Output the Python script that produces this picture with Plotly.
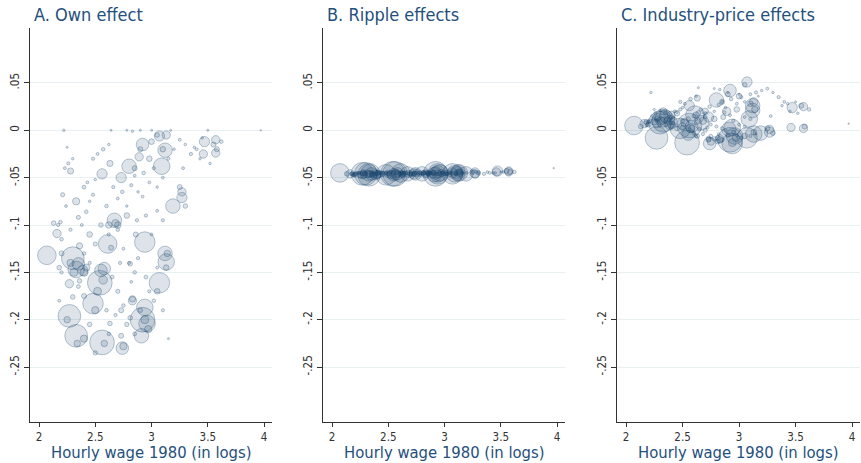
import plotly.graph_objects as go
import numpy as np

# ---- data: occupations (log hourly wage 1980, weight, three effects) ----
big_wage   = [2.07, 2.30, 2.27, 2.33, 2.54, 2.56, 2.48, 2.61, 2.94, 2.92, 2.96, 3.07, 3.12, 3.13, 2.94, 2.91,
              2.74, 2.33, 2.67, 2.92, 3.09, 3.12, 3.07, 2.80, 2.56, 2.73, 3.19, 3.27, 3.27, 3.47, 3.57, 3.46,
              3.57, 2.58, 2.16, 2.27, 2.83, 2.36, 2.33, 2.28, 2.63, 2.89, 3.13, 3.97, 2.55, 2.35, 2.39]
big_weight = [1.65, 2.45, 2.45, 2.45, 2.9, 2.9, 2.0, 1.65, 2.0, 2.9, 1.3, 2.0, 1.0, 1.3, 1.3, 1.0,
              0.75, 1.3, 1.0, 0.75, 1.3, 1.0, 0.5, 1.0, 0.5, 0.5, 1.0, 0.5, 0.33, 0.5, 0.33, 0.33,
              0.33, 0.75, 0.33, 0.33, 0.33, 0.18, 0.25, 0.18, 0.18, 0.33, 0.33, 0.01, 0.75, 0.75, 0.5]
big_own    = [-0.132, -0.135, -0.196, -0.217, -0.161, -0.224, -0.183, -0.120, -0.118, -0.200, -0.204, -0.161,
              -0.130, -0.139, -0.187, -0.217, -0.230, -0.147, -0.095, -0.015, -0.038, -0.021, -0.006, -0.038,
              -0.046, -0.050, -0.080, -0.071, -0.065, -0.012, -0.010, -0.025, -0.024, -0.146, -0.109, -0.162,
              -0.180, -0.122, -0.075, -0.043, -0.035, -0.028, -0.005, 0.000, -0.148, -0.141, -0.148]
big_ripple = [-0.045, -0.046, -0.046, -0.047, -0.046, -0.046, -0.047, -0.045, -0.046, -0.046, -0.045, -0.046,
              -0.046, -0.045, -0.046, -0.047, -0.046, -0.045, -0.046, -0.045, -0.046, -0.044, -0.045, -0.046,
              -0.047, -0.046, -0.046, -0.045, -0.046, -0.043, -0.043, -0.044, -0.044, -0.046, -0.046, -0.047,
              -0.046, -0.047, -0.046, -0.045, -0.047, -0.046, -0.045, -0.040, -0.047, -0.046, -0.047]
big_ind    = [0.005, 0.008, -0.008, 0.010, -0.013, 0.005, 0.002, 0.016, -0.014, -0.010, -0.006, -0.008,
              0.021, -0.004, 0.003, 0.001, -0.014, 0.012, 0.008, 0.042, 0.012, 0.026, 0.051, 0.032,
              0.026, 0.014, -0.003, -0.002, 0.001, 0.024, 0.025, 0.003, 0.002, 0.004, 0.007, 0.007,
              -0.009, 0.010, 0.020, 0.012, 0.034, 0.020, 0.030, 0.007, -0.004, 0.015, 0.006]

mid_wage   = [2.64, 2.70, 2.81, 2.36, 2.30, 2.73, 2.81, 2.63, 2.73, 2.90, 2.83, 2.40, 2.42, 2.52, 2.57,
              2.50, 2.28, 2.31, 2.25, 2.34, 2.40, 2.58, 2.75, 2.94, 2.97, 3.05, 3.14, 3.13, 2.62, 2.68,
              2.85, 2.98, 3.10, 3.00, 3.05, 2.90, 3.30, 3.25, 3.55, 3.58, 2.20, 2.18, 2.45, 2.78, 2.86]
mid_weight = [0.12, 0.20, 0.10, 0.10, 0.10, 0.12, 0.10, 0.10, 0.12, 0.10, 0.20, 0.30, 0.25, 0.30, 0.35,
              0.25, 0.25, 0.30, 0.20, 0.20, 0.25, 0.20, 0.25, 0.30, 0.25, 0.15, 0.20, 0.15, 0.20, 0.25,
              0.12, 0.15, 0.15, 0.15, 0.10, 0.12, 0.10, 0.12, 0.12, 0.12, 0.12, 0.10, 0.15, 0.15, 0.12]
mid_own    = [-0.124, -0.100, -0.141, -0.159, -0.176, -0.190, -0.198, -0.204, -0.217, -0.190, -0.178, -0.150,
              -0.145, -0.170, -0.158, -0.190, -0.140, -0.150, -0.200, -0.225, -0.220, -0.225, -0.228, -0.200,
              -0.210, -0.170, -0.130, -0.145, -0.100, -0.098, -0.040, -0.030, -0.020, -0.012, -0.005, -0.020,
              -0.080, -0.060, -0.015, -0.020, -0.130, -0.145, -0.110, -0.090, -0.110]
mid_ripple = [-0.046, -0.046, -0.045, -0.047, -0.046, -0.046, -0.045, -0.046, -0.046, -0.045, -0.046, -0.047,
              -0.046, -0.047, -0.046, -0.046, -0.047, -0.046, -0.047, -0.046, -0.047, -0.046, -0.045, -0.046,
              -0.045, -0.046, -0.045, -0.044, -0.046, -0.046, -0.045, -0.046, -0.045, -0.045, -0.044, -0.045,
              -0.045, -0.044, -0.043, -0.044, -0.047, -0.046, -0.046, -0.046, -0.046]
mid_ind    = [0.018, 0.020, -0.008, 0.012, 0.006, -0.010, -0.012, -0.006, -0.009, -0.005, -0.010, 0.016,
              0.010, 0.008, 0.002, 0.004, 0.014, 0.010, 0.009, 0.011, 0.006, 0.002, -0.012, -0.013,
              -0.008, -0.006, 0.022, -0.002, 0.016, 0.010, 0.030, 0.022, 0.028, 0.036, 0.048, 0.038,
              -0.003, 0.002, 0.026, 0.004, 0.006, 0.009, 0.018, 0.012, 0.014]

small_wage = [2.22, 2.25, 2.23, 2.26, 2.30, 2.21, 2.19, 2.13, 2.17, 2.24, 2.20, 2.28, 2.35, 2.38, 2.42, 2.45,
              2.48, 2.40, 2.43, 2.50, 2.48, 2.52, 2.57, 2.62, 2.66, 2.70, 2.74, 2.78, 2.82, 2.85, 2.88, 2.93,
              2.98, 3.02, 3.05, 3.10, 3.15, 3.20, 3.25, 3.30, 3.35, 3.40, 3.43, 3.52, 3.62, 2.64, 2.78, 2.83,
              2.90, 3.00, 3.17, 3.50, 2.40, 2.45, 2.50, 2.62, 2.70, 2.75, 2.80, 2.85, 2.82, 2.88, 2.95, 2.98,
              3.02, 3.05, 2.70, 2.75, 2.68, 2.78, 2.85, 2.62, 2.45, 2.40, 2.35, 2.20, 2.18, 2.60, 2.72, 2.65,
              3.10, 3.15, 2.50, 2.55, 2.60, 2.95, 3.00, 3.10, 3.05, 3.38, 3.45, 3.28, 2.87, 2.92]
small_weight = [0.03, 0.02, 0.04, 0.05, 0.03, 0.08, 0.06, 0.10, 0.05, 0.04, 0.06, 0.05, 0.08, 0.04, 0.06, 0.03,
                0.05, 0.07, 0.04, 0.03, 0.05, 0.04, 0.06, 0.03, 0.05, 0.04, 0.06, 0.03, 0.05, 0.04, 0.03, 0.06,
                0.04, 0.05, 0.03, 0.04, 0.05, 0.03, 0.04, 0.03, 0.05, 0.04, 0.03, 0.03, 0.06, 0.02, 0.02, 0.03,
                0.02, 0.02, 0.02, 0.02, 0.06, 0.05, 0.08, 0.05, 0.06, 0.04, 0.05, 0.06, 0.04, 0.05, 0.07, 0.05,
                0.06, 0.04, 0.08, 0.06, 0.05, 0.09, 0.07, 0.06, 0.10, 0.12, 0.07, 0.05, 0.04, 0.06, 0.05, 0.07,
                0.05, 0.02, 0.09, 0.10, 0.06, 0.05, 0.04, 0.05, 0.04, 0.03, 0.03, 0.04, 0.05, 0.04]
small_own  = [0.000, -0.018, -0.040, -0.035, -0.030, -0.068, -0.097, -0.098, -0.100, -0.080, -0.115, -0.105,
              -0.092, -0.100, -0.086, -0.075, -0.068, -0.060, -0.055, -0.052, -0.030, -0.025, -0.020, -0.015,
              -0.060, -0.072, -0.065, -0.080, -0.058, -0.048, -0.065, -0.045, -0.055, -0.040, -0.060, -0.050,
              -0.030, -0.020, -0.010, -0.015, -0.025, -0.020, -0.030, -0.035, -0.012, 0.000, 0.000, -0.001,
              0.000, 0.000, 0.000, 0.000, -0.130, -0.140, -0.120, -0.110, -0.105, -0.125, -0.140, -0.150,
              -0.160, -0.135, -0.155, -0.170, -0.180, -0.145, -0.170, -0.185, -0.195, -0.205, -0.215, -0.215,
              -0.205, -0.175, -0.165, -0.150, -0.180, -0.190, -0.140, -0.155, -0.190, -0.220, -0.235, -0.100,
              -0.080, -0.090, -0.110, -0.095, -0.085, -0.018, -0.008, -0.040, -0.095, -0.070]
small_ripple = [-0.045, -0.046, -0.045, -0.046, -0.045, -0.046, -0.047, -0.046, -0.046, -0.045, -0.047, -0.046,
                -0.045, -0.046, -0.045, -0.046, -0.045, -0.046, -0.045, -0.046, -0.045, -0.044, -0.045, -0.046,
                -0.045, -0.046, -0.045, -0.046, -0.045, -0.046, -0.045, -0.046, -0.045, -0.046, -0.045, -0.046,
                -0.045, -0.045, -0.044, -0.045, -0.046, -0.045, -0.045, -0.044, -0.044, -0.045, -0.046, -0.045,
                -0.046, -0.045, -0.045, -0.044, -0.046, -0.045, -0.046, -0.045, -0.046, -0.045, -0.046, -0.045,
                -0.046, -0.045, -0.046, -0.045, -0.046, -0.045, -0.046, -0.045, -0.046, -0.045, -0.046, -0.045,
                -0.046, -0.045, -0.046, -0.047, -0.046, -0.045, -0.046, -0.045, -0.046, -0.045, -0.046, -0.045,
                -0.046, -0.045, -0.046, -0.045, -0.046, -0.044, -0.045, -0.044, -0.045, -0.046]
small_ind  = [0.040, 0.022, 0.015, 0.018, 0.021, 0.010, 0.006, 0.004, 0.008, 0.012, 0.009, 0.011,
              0.018, 0.015, 0.013, 0.019, 0.022, 0.014, 0.020, 0.024, 0.030, 0.028, 0.033, 0.036,
              0.022, 0.018, 0.025, 0.020, 0.027, 0.030, 0.024, 0.033, 0.028, 0.035, 0.030, 0.038,
              0.040, 0.042, 0.044, 0.040, 0.035, 0.030, 0.028, 0.018, 0.022, 0.045, 0.044, 0.043,
              0.040, 0.038, 0.036, 0.030, 0.008, 0.005, 0.010, 0.012, 0.014, 0.006, 0.004, 0.002,
              -0.004, 0.000, -0.002, -0.005, -0.008, 0.004, 0.000, -0.006, -0.004, -0.009, -0.010, -0.006,
              0.002, 0.004, 0.006, 0.009, 0.005, -0.003, 0.003, 0.001, -0.006, -0.004, 0.003, 0.012,
              0.015, 0.010, 0.006, 0.012, 0.014, 0.026, 0.020, 0.015, 0.019, 0.016]

panel_titles = ["A. Own effect", "B. Ripple effects", "C. Industry-price effects"]
x_title = "Hourly wage 1980 (in logs)"
y_ticks = [0.05, 0.0, -0.05, -0.10, -0.15, -0.20, -0.25]
y_tick_labels = [".05", "0", "-.05", "-.1", "-.15", "-.2", "-.25"]
x_ticks = [2, 2.5, 3, 3.5, 4]
x_tick_labels = ["2", "2.5", "3", "3.5", "4"]

wage = big_wage + mid_wage + small_wage
weight = big_weight + mid_weight + small_weight
effects = [big_own + mid_own + small_own,
           big_ripple + mid_ripple + small_ripple,
           big_ind + mid_ind + small_ind]

# ---- figure ----
W, H = 861, 463
title_col = "#24507c"
font_fam = "Liberation Sans Narrow, DejaVu Sans Condensed, Roboto"
tick_font = dict(family=font_fam, size=11.5, color="#333333")
panel_font = dict(family=font_fam, size=18, color=title_col)
xtitle_font = dict(family=font_fam, size=16.5, color=title_col)

diam = [14.5 * np.sqrt(w) for w in weight]
order = np.argsort(diam)[::-1]

x_domains = [(30, 272), (323, 565), (617, 860)]
y_top, y_bot = 28, 422

fig = go.Figure()
for i, (eff, (x0, x1)) in enumerate(zip(effects, x_domains)):
    xs = [wage[j] for j in order]
    ys = [eff[j] for j in order]
    ss = [diam[j] for j in order]
    suffix = "" if i == 0 else str(i + 1)
    fig.add_trace(go.Scatter(
        x=xs, y=ys, mode="markers",
        marker=dict(size=ss, sizemode="diameter", color="rgba(26,71,111,0.21)",
                    line=dict(color="rgba(26,71,111,0.45)", width=1)),
        xaxis="x" + suffix, yaxis="y" + suffix, showlegend=False, hoverinfo="skip"))
    xa = dict(domain=[x0 / W, x1 / W], range=[1.92, 4.07], tickvals=x_ticks, ticktext=x_tick_labels,
              showgrid=False, zeroline=False, showline=True, linecolor="#333333", linewidth=1.2,
              ticks="outside", ticklen=4, tickcolor="#333333", tickfont=tick_font,
              automargin=False, anchor="y" + suffix)
    ya = dict(domain=[1 - y_bot / H, 1 - y_top / H], range=[-0.308, 0.108], tickvals=y_ticks,
              ticktext=y_tick_labels, tickangle=-90, showgrid=True, gridcolor="#e8f0f2", gridwidth=1,
              zeroline=False, showline=True, linecolor="#333333", linewidth=1.2,
              ticks="outside", ticklen=5, tickcolor="#333333", tickfont=tick_font,
              automargin=False, anchor="x" + suffix)
    fig.layout["xaxis" + suffix] = xa
    fig.layout["yaxis" + suffix] = ya
    fig.add_annotation(text=panel_titles[i], x=(x0 + 2) / W, y=1 - 15 / H, xref="paper", yref="paper",
                       xanchor="left", yanchor="middle", showarrow=False, font=panel_font)
    fig.add_annotation(text=x_title, x=(x0 + x1) / 2 / W, y=1 - 452.5 / H, xref="paper", yref="paper",
                       xanchor="center", yanchor="middle", showarrow=False, font=xtitle_font)

fig.update_layout(width=W, height=H, margin=dict(l=0, r=0, t=0, b=0),
                  plot_bgcolor="white", paper_bgcolor="white")
fig.write_html("out.html", config={"displayModeBar": False},
               post_script="document.body.style.margin='0';document.body.style.overflow='hidden';")
